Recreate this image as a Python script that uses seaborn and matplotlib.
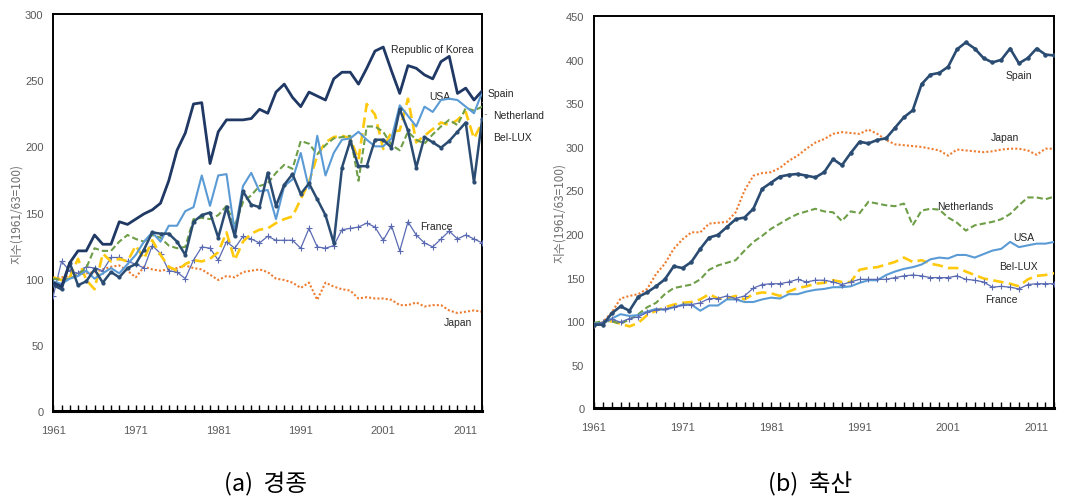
import matplotlib
matplotlib.use("Agg")
import matplotlib.pyplot as plt
from matplotlib.ticker import MultipleLocator, FixedLocator
import seaborn as sns
import pandas as pd

years = list(range(1961, 2014))

# ---------------- (a) crops ----------------
a_korea = [97, 94, 112, 121, 121, 133, 126, 126, 143, 141,
           145, 149, 152, 157, 174, 197, 210, 232, 233, 187,
           211, 220, 220, 220, 221, 228, 225, 241, 247, 237,
           230, 241, 238, 235, 251, 256, 256, 247, 259, 272,
           275, 257, 240, 261, 259, 254, 251, 264, 268, 240,
           244, 235, 242]
a_spain = [95, 92, 112, 95, 98, 107, 97, 105, 101, 108,
           111, 122, 135, 134, 134, 128, 118, 143, 148, 150,
           131, 154, 132, 166, 156, 154, 180, 155, 171, 179,
           164, 172, 160, 148, 127, 184, 204, 185, 185, 205,
           205, 199, 228, 212, 184, 207, 203, 199, 204, 211,
           218, 173, 221]
a_usa = [98, 96, 100, 102, 106, 100, 104, 108, 104, 111,
         118, 128, 135, 128, 140, 140, 151, 154, 178, 155,
         178, 179, 135, 170, 180, 166, 167, 145, 170, 175,
         195, 168, 208, 178, 195, 205, 206, 211, 205, 200,
         200, 206, 231, 223, 215, 230, 226, 235, 236, 235,
         230, 225, 241]
a_neth = [100, 99, 100, 103, 108, 123, 121, 121, 128, 133,
          130, 128, 133, 131, 125, 123, 124, 145, 146, 145,
          148, 155, 140, 158, 163, 170, 172, 180, 186, 183,
          204, 202, 194, 201, 206, 207, 208, 174, 215, 215,
          211, 201, 197, 211, 205, 202, 209, 215, 220, 216,
          229, 227, 230]
a_bellux = [101, 99, 101, 115, 99, 92, 119, 113, 115, 113,
            125, 115, 129, 118, 109, 106, 111, 114, 113, 115,
            120, 135, 114, 128, 134, 137, 138, 142, 145, 147,
            160, 173, 193, 203, 207, 208, 206, 190, 232, 224,
            198, 211, 212, 236, 203, 208, 213, 218, 216, 220,
            226, 206, 218]
a_france = [87, 113, 106, 104, 109, 108, 106, 116, 116, 113,
            111, 108, 125, 119, 106, 105, 100, 114, 124, 123,
            114, 128, 123, 132, 130, 127, 132, 129, 129, 129,
            123, 138, 124, 123, 125, 137, 138, 139, 142, 139,
            129, 140, 121, 143, 133, 127, 124, 130, 136, 130,
            133, 130, 127]
a_japan = [100, 101, 102, 103, 104, 105, 107, 109, 110, 106,
           101, 109, 107, 106, 107, 108, 110, 108, 107, 103,
           99, 102, 101, 105, 106, 107, 105, 100, 99, 97,
           93, 97, 84, 97, 94, 92, 91, 85, 86, 85,
           85, 84, 80, 80, 82, 79, 80, 80, 76, 74,
           75, 76, 75]

# ---------------- (b) livestock ----------------
b_spain = [96, 96, 109, 117, 112, 128, 133, 140, 148, 163,
           161, 168, 183, 196, 199, 208, 217, 219, 229, 252,
           259, 266, 268, 269, 267, 265, 271, 286, 279, 293,
           306, 304, 308, 310, 322, 334, 342, 372, 383, 385,
           392, 412, 420, 413, 402, 397, 400, 413, 396, 402,
           413, 406, 405]
b_japan = [93, 99, 110, 126, 129, 131, 137, 154, 166, 183,
           194, 202, 202, 212, 213, 214, 225, 250, 267, 270,
           271, 276, 284, 290, 298, 305, 309, 315, 317, 316,
           315, 320, 315, 308, 303, 302, 301, 300, 298, 296,
           290, 297, 296, 295, 294, 295, 297, 298, 298, 296,
           291, 298, 298]
b_neth = [98, 100, 100, 97, 102, 108, 116, 121, 131, 138,
          140, 142, 148, 159, 164, 167, 170, 181, 191, 198,
          206, 212, 218, 223, 226, 229, 226, 225, 215, 226,
          224, 237, 235, 233, 232, 235, 210, 227, 229, 228,
          219, 213, 204, 210, 212, 214, 217, 223, 233, 242,
          242, 240, 243]
b_usa = [97, 98, 103, 108, 106, 107, 111, 114, 113, 116,
         119, 119, 112, 118, 118, 125, 125, 122, 122, 125,
         127, 126, 131, 131, 134, 136, 137, 139, 139, 140,
         144, 147, 147, 153, 157, 160, 162, 165, 171, 173,
         172, 176, 176, 173, 177, 181, 183, 191, 185, 187,
         189, 189, 191]
b_bellux = [97, 98, 100, 97, 94, 98, 107, 112, 116, 119,
            121, 122, 125, 131, 126, 126, 129, 125, 131, 133,
            132, 129, 134, 138, 140, 143, 144, 147, 145, 145,
            159, 161, 162, 165, 168, 173, 168, 170, 166, 164,
            161, 161, 157, 153, 149, 147, 145, 143, 140, 148,
            152, 153, 155]
b_france = [96, 99, 102, 99, 103, 105, 110, 113, 114, 116,
            118, 119, 121, 126, 126, 129, 126, 129, 138, 142,
            143, 143, 145, 148, 145, 147, 147, 145, 142, 145,
            148, 148, 148, 148, 150, 152, 153, 152, 150, 150,
            150, 152, 148, 147, 145, 139, 140, 139, 137, 142,
            143, 143, 143]

ylabel_text = "지수(1961/63=100)"
caption_a = "(a)  경종"
caption_b = "(b)  축산"
xtick_years = [1961, 1971, 1981, 1991, 2001, 2011]

sns.set_style("white")
plt.rcParams['font.family'] = ['Liberation Sans', 'DejaVu Sans']

SANS = ['Liberation Sans', 'DejaVu Sans']
CJK = ['Noto Sans CJK KR', 'DejaVu Sans']
GRAY = '#595959'

styles = {
    'korea':  dict(color='#1F3864', lw=2.0, ls='-'),
    'spainA': dict(color='#2B4C72', lw=1.8, ls='-', marker='o', ms=2.2),
    'spainB': dict(color='#2B4C72', lw=1.9, ls='-', marker='o', ms=2.4),
    'usa':    dict(color='#5B9BD5', lw=1.5, ls='-'),
    'neth':   dict(color='#6E9E47', lw=1.5, ls=(0, (3, 1.5))),
    'bellux': dict(color='#FFC90E', lw=1.9, ls=(0, (4, 2))),
    'france': dict(color='#5A6AB2', lw=0.9, ls='-', marker='+', ms=4.5, mew=0.8),
    'japan':  dict(color='#ED7D31', lw=1.5, ls=(0, (1, 1))),
}

fig = plt.figure(figsize=(10.74, 5.02), dpi=100)
axA = fig.add_axes([0.0496, 0.1793, 0.3994, 0.7908])
axB = fig.add_axes([0.5531, 0.1847, 0.4286, 0.7809])


def draw(ax, name, vals, key, z=2):
    df = pd.DataFrame({'year': years, 'value': vals, 'series': name})
    st = dict(styles[key])
    kw = dict(color=st.pop('color'), linewidth=st.pop('lw'), linestyle=st.pop('ls'))
    if 'marker' in st:
        kw['marker'] = st.pop('marker')
        kw['markersize'] = st.pop('ms')
        kw['markeredgewidth'] = st.pop('mew', 0.8)
        kw['markeredgecolor'] = kw['color']
    sns.lineplot(data=df, x='year', y='value', ax=ax, legend=False, zorder=z, **kw)


# Panel (a)
draw(axA, 'Japan', a_japan, 'japan', 2)
draw(axA, 'France', a_france, 'france', 3)
draw(axA, 'Bel-LUX', a_bellux, 'bellux', 4)
draw(axA, 'Netherlands', a_neth, 'neth', 4)
draw(axA, 'USA', a_usa, 'usa', 5)
draw(axA, 'Spain', a_spain, 'spainA', 6)
draw(axA, 'Republic of Korea', a_korea, 'korea', 7)

# Panel (b)
draw(axB, 'Bel-LUX', b_bellux, 'bellux', 3)
draw(axB, 'Japan', b_japan, 'japan', 2)
draw(axB, 'Netherlands', b_neth, 'neth', 4)
draw(axB, 'USA', b_usa, 'usa', 5)
draw(axB, 'France', b_france, 'france', 6)
draw(axB, 'Spain', b_spain, 'spainB', 7)

for ax, ymax in ((axA, 300), (axB, 450)):
    ax.set_xlim(1961, 2013)
    ax.set_ylim(0, ymax)
    ax.yaxis.set_major_locator(MultipleLocator(50))
    ax.xaxis.set_major_locator(FixedLocator(xtick_years))
    ax.xaxis.set_minor_locator(MultipleLocator(1))
    ax.tick_params(axis='x', which='both', direction='in', length=4, width=1,
                   color='black', labelsize=8, labelcolor=GRAY, pad=10, bottom=True, top=False)
    ax.tick_params(axis='y', which='both', length=0, labelsize=8, labelcolor=GRAY, pad=7)
    for lab in ax.get_xticklabels() + ax.get_yticklabels():
        lab.set_family(SANS)
    for side, sp in ax.spines.items():
        sp.set_visible(True)
        sp.set_color('black')
        sp.set_linewidth(1.4)
    ax.spines['bottom'].set_linewidth(2.2)
    ax.set_xlabel('')
    ax.set_ylabel(ylabel_text, fontsize=8.5, color='#6E6E6E', family=CJK)
    ax.grid(False)

axA.yaxis.set_label_coords(-0.071, 0.5)
axB.yaxis.set_label_coords(-0.061, 0.5)

lab_kw = dict(fontsize=7.5, color='#262626', family=SANS)

# Labels panel (a)
axA.text(2002.0, 273.6, 'Republic of Korea', ha='left', va='center', **lab_kw)
axA.text(2007.9, 238, 'USA', ha='center', va='center', **lab_kw)
axA.text(2007.5, 140, 'France', ha='center', va='center', **lab_kw)
axA.text(2010.0, 67.5, 'Japan', ha='center', va='center', **lab_kw)
axA.annotate('Spain', xy=(2013, 233), xytext=(2013.6, 240.5), ha='left', va='center',
             annotation_clip=False, arrowprops=dict(arrowstyle='-', color='#8C8C8C', lw=0.6),
             **lab_kw)
axA.annotate('Netherland', xy=(2013, 224), xytext=(2014.3, 223.7), ha='left', va='center',
             annotation_clip=False, arrowprops=dict(arrowstyle='-', color='#8C8C8C', lw=0.6),
             **lab_kw)
axA.text(2014.3, 207, 'Bel-LUX', ha='left', va='center', clip_on=False, **lab_kw)

# Labels panel (b)
axB.text(2009.0, 383, 'Spain', ha='center', va='center', **lab_kw)
axB.text(2007.4, 311, 'Japan', ha='center', va='center', **lab_kw)
axB.text(2002.9, 232.6, 'Netherlands', ha='center', va='center', **lab_kw)
axB.text(2009.6, 197, 'USA', ha='center', va='center', **lab_kw)
axB.text(2008.9, 163.7, 'Bel-LUX', ha='center', va='center', **lab_kw)
axB.text(2007.0, 125.5, 'France', ha='center', va='center', **lab_kw)

# Captions
fig.text(265 / 1074, 1 - 484 / 502, caption_a, ha='center', va='center',
         fontsize=17, family=CJK, color='black')
fig.text(810 / 1074, 1 - 484 / 502, caption_b, ha='center', va='center',
         fontsize=17, family=CJK, color='black')

fig.savefig('out.png', dpi=100, facecolor='white')
